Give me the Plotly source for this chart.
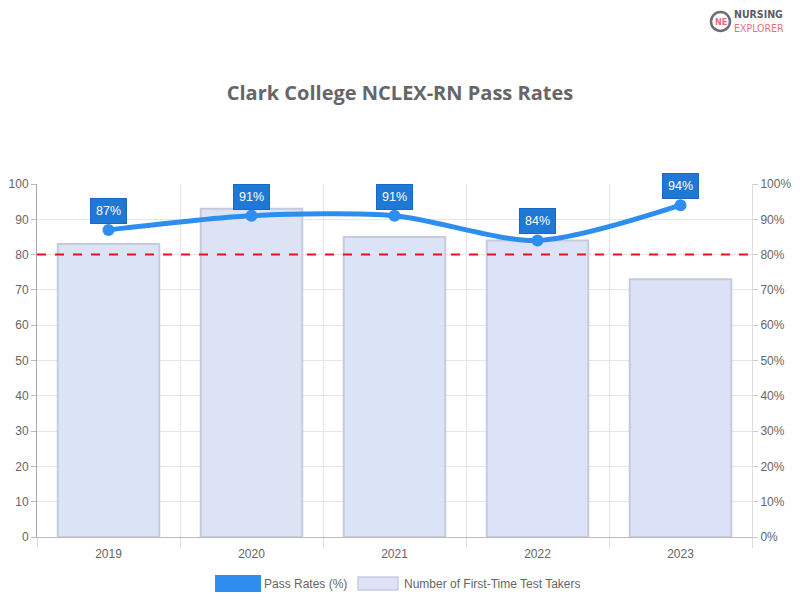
import plotly.graph_objects as go

years = ["2019", "2020", "2021", "2022", "2023"]
test_takers = [83, 93, 85, 84, 73]
pass_rates = [87, 91, 91, 84, 94]
benchmark = 80

bar_colors = ["#dae4f5", "#dbe3f5", "#dbe3f6", "#dce2f7", "#dde1f7"]
grey = "#666666"

# page renders with an 8px body margin; compensate
W, H = 792, 592
PL, PR, PT, PB = 29, 744, 176, 529  # plot area in figure px


def px(xp):  # page x -> paper
    return (xp - 37) / 715


def py(yp):  # page y -> paper
    return (537 - yp) / 353


fig = go.Figure()
fig.add_trace(go.Bar(
    x=years, y=test_takers, name="Number of First-Time Test Takers",
    marker=dict(color=bar_colors, line=dict(color="#c6cbdc", width=2)),
    yaxis="y", hoverinfo="x+y",
))
fig.add_trace(go.Scatter(
    x=years, y=pass_rates, name="Pass Rates (%)", yaxis="y2",
    mode="lines+markers",
    line=dict(color="#2e8ef0", width=5, shape="spline", smoothing=0.8),
    marker=dict(color="#2e8ef0", size=12),
))

fig.add_shape(type="line", xref="paper", x0=0, x1=1, yref="y2", y0=benchmark, y1=benchmark,
              line=dict(color="#e8101e", width=2, dash="dash"))

for i, v in enumerate(pass_rates):
    fig.add_annotation(x=i, y=v, xref="x", yref="y2", text=f"{v}%", showarrow=False,
                       xanchor="center", yanchor="middle",
                       yshift=19, bgcolor="#1f77d6", bordercolor="#1a68c0", borderwidth=1,
                       borderpad=5, font=dict(color="white", size=12.5, family="Liberation Sans"))

# legend (manual)
fig.add_shape(type="rect", xref="paper", yref="paper", x0=px(215), x1=px(261),
              y0=py(592), y1=py(575), fillcolor="#2e8ef0", line=dict(width=0))
fig.add_annotation(xref="paper", yref="paper", x=px(262), y=py(583.5), xanchor="left", yanchor="middle",
                   text="Pass Rates (%)", showarrow=False, font=dict(size=12, color=grey, family="Liberation Sans"))
fig.add_shape(type="rect", xref="paper", yref="paper", x0=px(358), x1=px(398),
              y0=py(590), y1=py(577), fillcolor="#dfe3f8", line=dict(color="#c8cce0", width=1.5))
fig.add_annotation(xref="paper", yref="paper", x=px(402), y=py(583.5), xanchor="left", yanchor="middle",
                   text="Number of First-Time Test Takers", showarrow=False,
                   font=dict(size=12, color=grey, family="Liberation Sans"))

# logo
fig.add_shape(type="circle", xref="paper", yref="paper",
              x0=px(711), x1=px(730), y0=py(31), y1=py(12),
              line=dict(color="#6d6d73", width=2.5), fillcolor="white")
fig.add_annotation(xref="paper", yref="paper", x=px(720.5), y=py(21.5), xanchor="center", yanchor="middle",
                   text="<b>NE</b>", showarrow=False,
                   font=dict(size=9, color="#e86a7a", family="DejaVu Sans Condensed"))
fig.add_annotation(xref="paper", yref="paper", x=px(732), y=py(21), xanchor="left", yanchor="middle",
                   align="left",
                   text="<b>NURSING</b><br><span style='color:#e8707e'>EXPLORER</span>",
                   showarrow=False,
                   font=dict(size=10.5, color="#5c5c66", family="DejaVu Sans Condensed"))

fig.update_layout(
    width=W, height=H,
    margin=dict(l=PL, r=W - PR, t=PT, b=H - PB, autoexpand=False),
    paper_bgcolor="white", plot_bgcolor="white",
    showlegend=False,
    bargap=0.29,
    title=dict(text="<b>Clark College NCLEX-RN Pass Rates</b>", x=(400 - 8) / W, xanchor="center",
               y=1 - (93 - 8) / H, yanchor="middle",
               font=dict(family="Open Sans", size=20, color=grey)),
    font=dict(family="Liberation Sans", size=12, color=grey),
    xaxis=dict(type="category", range=[-0.5, 4.5], tickson="boundaries", ticks="outside", ticklen=10,
               tickcolor="#dddddd", showgrid=True, gridcolor="#e6e6e6", ticklabelstandoff=6,
               showline=True, linecolor="#bbbbbb", linewidth=1, tickangle=0,
               tickfont=dict(size=12, color=grey)),
    yaxis=dict(range=[0, 100], tick0=0, dtick=10, ticks="outside", ticklen=5,
               tickcolor="#bbbbbb", showgrid=True, gridcolor="#e6e6e6", zeroline=False,
               showline=True, linecolor="#aaaaaa", linewidth=1,
               tickfont=dict(size=12, color=grey)),
    yaxis2=dict(range=[0, 100], tick0=0, dtick=10, ticksuffix="%", overlaying="y", side="right",
                ticks="outside", ticklen=5, tickcolor="#cccccc", showgrid=False, zeroline=False,
                showline=True, linecolor="#dddddd", linewidth=1,
                tickfont=dict(size=12, color=grey)),
)

fig.write_html("out.html")
